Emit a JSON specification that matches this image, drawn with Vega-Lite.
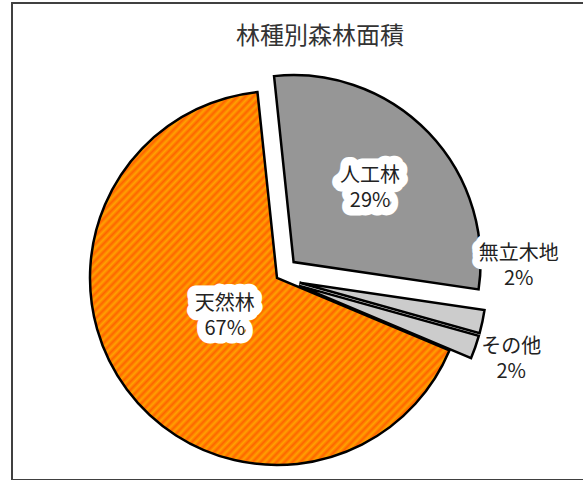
{
  "$schema": "https://vega.github.io/schema/vega-lite/v6.json",
  "autosize": {"type": "none"},
  "padding": {"left": 12, "top": 3, "right": 0, "bottom": 0},
  "width": 616,
  "height": 477,
  "background": "white",
  "config": {"view": {"stroke": null}},
  "title": {"text": "林種別森林面積", "font": "Noto Sans CJK JP", "fontSize": 24, "fontWeight": "normal", "color": "#333", "anchor": "middle", "frame": "group", "offset": -47},
  "data": {"values": [
    {"k": "人工林", "value": 29, "order": 1, "label": ["人工林", "29%"]},
    {"k": "無立木地", "value": 2, "order": 2, "label": ["無立木地", "2%"]},
    {"k": "その他", "value": 2, "order": 3, "label": ["その他", "2%"]},
    {"k": "天然林", "value": 67, "order": 4, "label": ["天然林", "67%"]}
  ]},
  "transform": [
    {"stack": "value", "groupby": [], "sort": [{"field": "order", "order": "ascending"}], "as": ["v0", "v1"]},
    {"calculate": "(datum.v0 + datum.v1) / 2", "as": "mid"}
  ],
  "layer": [
    {"mark": {"type": "rect", "x": 0, "y": 0, "x2": "width", "y2": "height", "fill": null, "stroke": "#404040", "strokeWidth": 1.5}, "encoding": {}},
    {"transform": [{"filter": "datum.k === '天然林'"}],
     "mark": {"type": "arc", "radius": 187, "stroke": "black", "strokeWidth": 2.5, "xOffset": -43, "yOffset": 36.5,
       "fill": {"gradient": "linear", "x1": 0, "y1": 0, "x2": 1, "y2": 1, "stops": [
{"offset":0,"color":"#ff6400"},{"offset":0.0056,"color":"#ffa200"},{"offset":0.0111,"color":"#ff6400"},{"offset":0.0167,"color":"#ffa200"},{"offset":0.0222,"color":"#ff6400"},{"offset":0.0278,"color":"#ffa200"},{"offset":0.0333,"color":"#ff6400"},{"offset":0.0389,"color":"#ffa200"},{"offset":0.0444,"color":"#ff6400"},{"offset":0.05,"color":"#ffa200"},{"offset":0.0556,"color":"#ff6400"},{"offset":0.0611,"color":"#ffa200"},{"offset":0.0667,"color":"#ff6400"},{"offset":0.0722,"color":"#ffa200"},{"offset":0.0778,"color":"#ff6400"},{"offset":0.0833,"color":"#ffa200"},{"offset":0.0889,"color":"#ff6400"},{"offset":0.0944,"color":"#ffa200"},
{"offset":0.1,"color":"#ff6400"},{"offset":0.1056,"color":"#ffa200"},{"offset":0.1111,"color":"#ff6400"},{"offset":0.1167,"color":"#ffa200"},{"offset":0.1222,"color":"#ff6400"},{"offset":0.1278,"color":"#ffa200"},{"offset":0.1333,"color":"#ff6400"},{"offset":0.1389,"color":"#ffa200"},{"offset":0.1444,"color":"#ff6400"},{"offset":0.15,"color":"#ffa200"},{"offset":0.1556,"color":"#ff6400"},{"offset":0.1611,"color":"#ffa200"},{"offset":0.1667,"color":"#ff6400"},{"offset":0.1722,"color":"#ffa200"},{"offset":0.1778,"color":"#ff6400"},{"offset":0.1833,"color":"#ffa200"},{"offset":0.1889,"color":"#ff6400"},{"offset":0.1944,"color":"#ffa200"},
{"offset":0.2,"color":"#ff6400"},{"offset":0.2056,"color":"#ffa200"},{"offset":0.2111,"color":"#ff6400"},{"offset":0.2167,"color":"#ffa200"},{"offset":0.2222,"color":"#ff6400"},{"offset":0.2278,"color":"#ffa200"},{"offset":0.2333,"color":"#ff6400"},{"offset":0.2389,"color":"#ffa200"},{"offset":0.2444,"color":"#ff6400"},{"offset":0.25,"color":"#ffa200"},{"offset":0.2556,"color":"#ff6400"},{"offset":0.2611,"color":"#ffa200"},{"offset":0.2667,"color":"#ff6400"},{"offset":0.2722,"color":"#ffa200"},{"offset":0.2778,"color":"#ff6400"},{"offset":0.2833,"color":"#ffa200"},{"offset":0.2889,"color":"#ff6400"},{"offset":0.2944,"color":"#ffa200"},
{"offset":0.3,"color":"#ff6400"},{"offset":0.3056,"color":"#ffa200"},{"offset":0.3111,"color":"#ff6400"},{"offset":0.3167,"color":"#ffa200"},{"offset":0.3222,"color":"#ff6400"},{"offset":0.3278,"color":"#ffa200"},{"offset":0.3333,"color":"#ff6400"},{"offset":0.3389,"color":"#ffa200"},{"offset":0.3444,"color":"#ff6400"},{"offset":0.35,"color":"#ffa200"},{"offset":0.3556,"color":"#ff6400"},{"offset":0.3611,"color":"#ffa200"},{"offset":0.3667,"color":"#ff6400"},{"offset":0.3722,"color":"#ffa200"},{"offset":0.3778,"color":"#ff6400"},{"offset":0.3833,"color":"#ffa200"},{"offset":0.3889,"color":"#ff6400"},{"offset":0.3944,"color":"#ffa200"},
{"offset":0.4,"color":"#ff6400"},{"offset":0.4056,"color":"#ffa200"},{"offset":0.4111,"color":"#ff6400"},{"offset":0.4167,"color":"#ffa200"},{"offset":0.4222,"color":"#ff6400"},{"offset":0.4278,"color":"#ffa200"},{"offset":0.4333,"color":"#ff6400"},{"offset":0.4389,"color":"#ffa200"},{"offset":0.4444,"color":"#ff6400"},{"offset":0.45,"color":"#ffa200"},{"offset":0.4556,"color":"#ff6400"},{"offset":0.4611,"color":"#ffa200"},{"offset":0.4667,"color":"#ff6400"},{"offset":0.4722,"color":"#ffa200"},{"offset":0.4778,"color":"#ff6400"},{"offset":0.4833,"color":"#ffa200"},{"offset":0.4889,"color":"#ff6400"},{"offset":0.4944,"color":"#ffa200"},
{"offset":0.5,"color":"#ff6400"},{"offset":0.5056,"color":"#ffa200"},{"offset":0.5111,"color":"#ff6400"},{"offset":0.5167,"color":"#ffa200"},{"offset":0.5222,"color":"#ff6400"},{"offset":0.5278,"color":"#ffa200"},{"offset":0.5333,"color":"#ff6400"},{"offset":0.5389,"color":"#ffa200"},{"offset":0.5444,"color":"#ff6400"},{"offset":0.55,"color":"#ffa200"},{"offset":0.5556,"color":"#ff6400"},{"offset":0.5611,"color":"#ffa200"},{"offset":0.5667,"color":"#ff6400"},{"offset":0.5722,"color":"#ffa200"},{"offset":0.5778,"color":"#ff6400"},{"offset":0.5833,"color":"#ffa200"},{"offset":0.5889,"color":"#ff6400"},{"offset":0.5944,"color":"#ffa200"},
{"offset":0.6,"color":"#ff6400"},{"offset":0.6056,"color":"#ffa200"},{"offset":0.6111,"color":"#ff6400"},{"offset":0.6167,"color":"#ffa200"},{"offset":0.6222,"color":"#ff6400"},{"offset":0.6278,"color":"#ffa200"},{"offset":0.6333,"color":"#ff6400"},{"offset":0.6389,"color":"#ffa200"},{"offset":0.6444,"color":"#ff6400"},{"offset":0.65,"color":"#ffa200"},{"offset":0.6556,"color":"#ff6400"},{"offset":0.6611,"color":"#ffa200"},{"offset":0.6667,"color":"#ff6400"},{"offset":0.6722,"color":"#ffa200"},{"offset":0.6778,"color":"#ff6400"},{"offset":0.6833,"color":"#ffa200"},{"offset":0.6889,"color":"#ff6400"},{"offset":0.6944,"color":"#ffa200"},
{"offset":0.7,"color":"#ff6400"},{"offset":0.7056,"color":"#ffa200"},{"offset":0.7111,"color":"#ff6400"},{"offset":0.7167,"color":"#ffa200"},{"offset":0.7222,"color":"#ff6400"},{"offset":0.7278,"color":"#ffa200"},{"offset":0.7333,"color":"#ff6400"},{"offset":0.7389,"color":"#ffa200"},{"offset":0.7444,"color":"#ff6400"},{"offset":0.75,"color":"#ffa200"},{"offset":0.7556,"color":"#ff6400"},{"offset":0.7611,"color":"#ffa200"},{"offset":0.7667,"color":"#ff6400"},{"offset":0.7722,"color":"#ffa200"},{"offset":0.7778,"color":"#ff6400"},{"offset":0.7833,"color":"#ffa200"},{"offset":0.7889,"color":"#ff6400"},{"offset":0.7944,"color":"#ffa200"},
{"offset":0.8,"color":"#ff6400"},{"offset":0.8056,"color":"#ffa200"},{"offset":0.8111,"color":"#ff6400"},{"offset":0.8167,"color":"#ffa200"},{"offset":0.8222,"color":"#ff6400"},{"offset":0.8278,"color":"#ffa200"},{"offset":0.8333,"color":"#ff6400"},{"offset":0.8389,"color":"#ffa200"},{"offset":0.8444,"color":"#ff6400"},{"offset":0.85,"color":"#ffa200"},{"offset":0.8556,"color":"#ff6400"},{"offset":0.8611,"color":"#ffa200"},{"offset":0.8667,"color":"#ff6400"},{"offset":0.8722,"color":"#ffa200"},{"offset":0.8778,"color":"#ff6400"},{"offset":0.8833,"color":"#ffa200"},{"offset":0.8889,"color":"#ff6400"},{"offset":0.8944,"color":"#ffa200"},
{"offset":0.9,"color":"#ff6400"},{"offset":0.9056,"color":"#ffa200"},{"offset":0.9111,"color":"#ff6400"},{"offset":0.9167,"color":"#ffa200"},{"offset":0.9222,"color":"#ff6400"},{"offset":0.9278,"color":"#ffa200"},{"offset":0.9333,"color":"#ff6400"},{"offset":0.9389,"color":"#ffa200"},{"offset":0.9444,"color":"#ff6400"},{"offset":0.95,"color":"#ffa200"},{"offset":0.9556,"color":"#ff6400"},{"offset":0.9611,"color":"#ffa200"},{"offset":0.9667,"color":"#ff6400"},{"offset":0.9722,"color":"#ffa200"},{"offset":0.9778,"color":"#ff6400"},{"offset":0.9833,"color":"#ffa200"},{"offset":0.9889,"color":"#ff6400"},{"offset":0.9944,"color":"#ffa200"},
{"offset":1,"color":"#ff6400"}
       ]}},
     "encoding": {"theta": {"field": "v0", "type": "quantitative", "scale": {"domain": [0, 100], "range": [-0.10472, 6.17847]}}, "theta2": {"field": "v1"}}},
    {"transform": [{"filter": "datum.k === '人工林'"}],
     "mark": {"type": "arc", "radius": 187, "fill": "#969696", "stroke": "black", "strokeWidth": 2.5, "xOffset": -26.4, "yOffset": 20.6},
     "encoding": {"theta": {"field": "v0", "type": "quantitative", "scale": {"domain": [0, 100], "range": [-0.10472, 6.17847]}}, "theta2": {"field": "v1"}}},
    {"transform": [{"filter": "datum.k === '無立木地'"}],
     "mark": {"type": "arc", "radius": 187, "fill": "#cccccc", "stroke": "black", "strokeWidth": 2.5, "xOffset": -20.5, "yOffset": 41.3},
     "encoding": {"theta": {"field": "v0", "type": "quantitative", "scale": {"domain": [0, 100], "range": [-0.10472, 6.17847]}}, "theta2": {"field": "v1"}}},
    {"transform": [{"filter": "datum.k === 'その他'"}],
     "mark": {"type": "arc", "radius": 187, "fill": "#cccccc", "stroke": "black", "strokeWidth": 2.5, "xOffset": -21.3, "yOffset": 44.1},
     "encoding": {"theta": {"field": "v0", "type": "quantitative", "scale": {"domain": [0, 100], "range": [-0.10472, 6.17847]}}, "theta2": {"field": "v1"}}},
    {"transform": [{"filter": "datum.k === '人工林'"}],
     "encoding": {"theta": {"field": "mid", "type": "quantitative", "scale": {"domain": [0, 100], "range": [-0.10472, 6.17847]}}, "text": {"field": "label"}},
     "layer": [
       {"mark": {"type": "text", "radius": 106, "dx": -26.4, "dy": 8.1, "font": "Noto Sans CJK JP", "fontSize": 20, "lineHeight": 25, "baseline": "middle", "align": "center", "fill": "white", "stroke": "white", "strokeWidth": 17, "strokeJoin": "round"}},
       {"mark": {"type": "text", "radius": 106, "dx": -26.4, "dy": 8.1, "font": "Noto Sans CJK JP", "fontSize": 20, "lineHeight": 25, "baseline": "middle", "align": "center", "fill": "#222"}}
     ]},
    {"transform": [{"filter": "datum.k === '天然林'"}],
     "encoding": {"theta": {"field": "mid", "type": "quantitative", "scale": {"domain": [0, 100], "range": [-0.10472, 6.17847]}}, "text": {"field": "label"}},
     "layer": [
       {"mark": {"type": "text", "radius": 65, "dx": -43, "dy": 24, "font": "Noto Sans CJK JP", "fontSize": 20, "lineHeight": 25, "baseline": "middle", "align": "center", "fill": "white", "stroke": "white", "strokeWidth": 17, "strokeJoin": "round"}},
       {"mark": {"type": "text", "radius": 65, "dx": -43, "dy": 24, "font": "Noto Sans CJK JP", "fontSize": 20, "lineHeight": 25, "baseline": "middle", "align": "center", "fill": "#222"}}
     ]},
    {"transform": [{"filter": "datum.k === '無立木地'"}],
     "encoding": {"text": {"field": "label"}},
     "layer": [
       {"mark": {"type": "text", "theta": 1.5219, "radius": 242, "dx": -43, "dy": 24, "font": "Noto Sans CJK JP", "fontSize": 20, "lineHeight": 25, "baseline": "middle", "align": "center", "fill": "white", "stroke": "white", "strokeWidth": 15, "strokeJoin": "round"}},
       {"mark": {"type": "text", "theta": 1.5219, "radius": 242, "dx": -43, "dy": 24, "font": "Noto Sans CJK JP", "fontSize": 20, "lineHeight": 25, "baseline": "middle", "align": "center", "fill": "#222"}}
     ]},
    {"transform": [{"filter": "datum.k === 'その他'"}],
     "encoding": {"theta": {"field": "mid", "type": "quantitative", "scale": {"domain": [0, 100], "range": [-0.10472, 6.17847]}}, "text": {"field": "label"}},
     "mark": {"type": "text", "radius": 248, "dx": -43, "dy": 24, "font": "Noto Sans CJK JP", "fontSize": 20, "lineHeight": 25, "baseline": "middle", "align": "center", "fill": "#222"}}
  ]
}
